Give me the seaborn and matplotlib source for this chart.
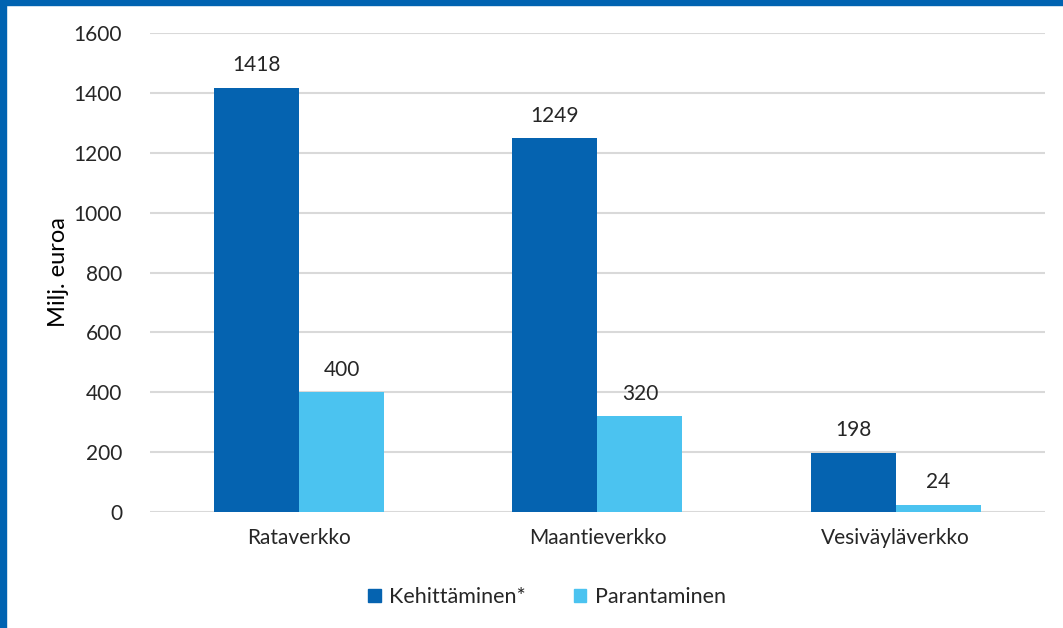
import matplotlib
matplotlib.use("Agg")
import matplotlib.pyplot as plt
import matplotlib.patches as mpatches
import pandas as pd
import seaborn as sns

# data
networks = ["Rataverkko", "Maantieverkko", "Vesiväyläverkko"]
kehittaminen = [1418, 1249, 198]
parantaminen = [400, 320, 24]
series_names = ["Kehittäminen*", "Parantaminen"]
colors = ["#0563B0", "#4BC3F0"]

df = pd.DataFrame({
    "verkko": networks * 2,
    "sarja": [series_names[0]] * 3 + [series_names[1]] * 3,
    "arvo": kehittaminen + parantaminen,
})

sns.set_style("white")
plt.rcParams["font.family"] = ["Lato", "DejaVu Sans"]

fig = plt.figure(figsize=(10.63, 6.28), dpi=100)
ax = fig.add_axes([0.141, 0.185, 0.842, 0.762])

sns.barplot(data=df, x="verkko", y="arvo", hue="sarja", palette=colors,
            width=0.57, gap=0, saturation=1, legend=False, linewidth=0, ax=ax)

for cont in ax.containers:
    ax.bar_label(cont, padding=9, fontsize=15, color="#262626")

ax.set_xlim(-0.5, 2.5)
ax.set_ylim(0, 1600)
ax.set_yticks(range(0, 1601, 200))
ax.yaxis.grid(True, color="#D9D9D9", linewidth=1.5)
ax.set_axisbelow(True)
for s in ax.spines.values():
    s.set_visible(False)
ax.tick_params(axis="both", length=0, labelsize=15, colors="#262626")
ax.tick_params(axis="y", pad=20)
ax.tick_params(axis="x", pad=12)
ax.set_xlabel("")
ax.set_ylabel("Milj. euroa", fontsize=17, color="black", labelpad=3)

handles = [mpatches.Patch(color=c, label=n) for c, n in zip(colors, series_names)]
fig.legend(handles=handles, loc="center", bbox_to_anchor=(547 / 1063, 1 - 597 / 628),
           ncol=2, frameon=False, fontsize=15.5, handlelength=0.6, handleheight=0.6,
           handletextpad=0.4, columnspacing=2.2, labelcolor="#262626")

# blue frame on the left and top edges
fig.patches.append(mpatches.Rectangle((0, 0), 6 / 1063, 1, transform=fig.transFigure,
                                      color="#0063B1", zorder=10))
fig.patches.append(mpatches.Rectangle((0, 1 - 5 / 628), 1, 5 / 628, transform=fig.transFigure,
                                      color="#0063B1", zorder=10))

fig.savefig("out.png", dpi=100)
